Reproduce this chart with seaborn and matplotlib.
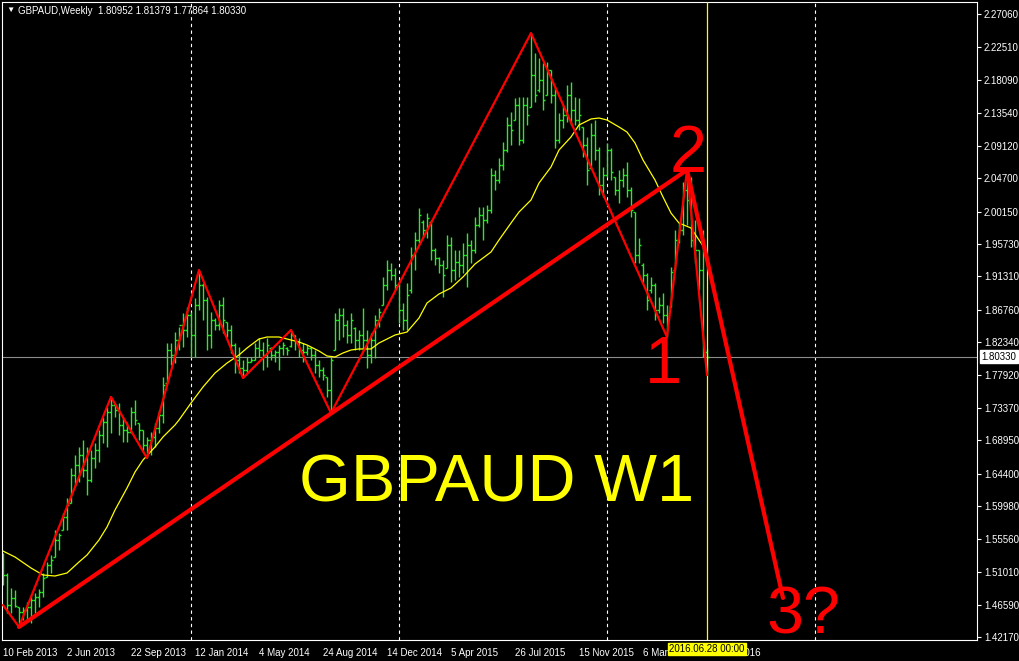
import matplotlib
matplotlib.use("Agg")
import matplotlib.pyplot as plt
import numpy as np
import pandas as pd
import seaborn as sns

# ---- GBPAUD weekly bars (10 Feb 2013 .. 26 Jun 2016) ----
symbol = "GBPAUD"
timeframe = "Weekly"

bar_open = [
    1.5293, 1.5062, 1.4653, 1.4748, 1.4626, 1.4558, 1.4585, 1.4626, 1.4721, 1.4762,
    1.4830, 1.5035, 1.5198, 1.5307, 1.5539, 1.5675, 1.5852, 1.6043, 1.6425, 1.6561,
    1.6697, 1.6493, 1.6356, 1.6656, 1.6765, 1.6970, 1.7147, 1.7283, 1.7378, 1.7310,
    1.7106, 1.7038, 1.7011, 1.7283, 1.7133, 1.7038, 1.6833, 1.6901, 1.6943, 1.7065,
    1.7242, 1.7678, 1.8128, 1.8060, 1.8264, 1.8469, 1.8400, 1.8605, 1.8332, 1.8741,
    1.9014, 1.8809, 1.8332, 1.8537, 1.8469, 1.8741, 1.8510, 1.8400, 1.8196, 1.7991,
    1.7882, 1.7855, 1.7964, 1.7991, 1.8155, 1.8128, 1.8060, 1.8155, 1.8060, 1.8101,
    1.8155, 1.8155, 1.8182, 1.8332, 1.8237, 1.8128, 1.8101, 1.8155, 1.8060, 1.7923,
    1.7855, 1.7760, 1.7583, 1.8128, 1.8537, 1.8605, 1.8469, 1.8332, 1.8427, 1.8264,
    1.8332, 1.8264, 1.8060, 1.8264, 1.8537, 1.8741, 1.9014, 1.9218, 1.9150, 1.9014,
    1.8673, 1.8537, 1.8945, 1.9422, 1.9627, 1.9872, 1.9763, 1.9872, 1.9490, 1.9381,
    1.9286, 1.9245, 1.9559, 1.9218, 1.9327, 1.9286, 1.9422, 1.9559, 1.9490, 1.9831,
    1.9967, 1.9899, 2.0035, 2.0513, 2.0444, 2.0649, 2.0853, 2.1194, 2.1262, 2.1466,
    2.0989, 2.1466, 2.1439, 2.1875, 2.1671, 2.1807, 2.1603, 2.1943, 2.1603, 2.0989,
    2.1262, 2.1330, 2.1603, 2.1398, 2.1262, 2.1167, 2.0921, 2.0608, 2.1058, 2.0853,
    2.0376, 2.0513, 2.0853, 2.0485, 2.0308, 2.0444, 2.0513, 2.0308, 2.0008, 1.9422,
    1.9286, 1.9150, 1.8945, 1.9014, 1.8673, 1.8741, 1.8605, 1.8714, 1.9218, 1.9627,
    1.9763, 2.0308, 2.0172, 1.9627, 1.9490, 1.9218, 1.80952,
]
bar_high = [
    1.5361, 1.5089, 1.4885, 1.4857, 1.4626, 1.4626, 1.4694, 1.4789, 1.4816, 1.4871,
    1.5089, 1.5239, 1.5334, 1.5675, 1.5634, 1.5906, 1.6111, 1.6520, 1.6697, 1.6806,
    1.6901, 1.6806, 1.6765, 1.6860, 1.7038, 1.7215, 1.7351, 1.7488, 1.7405, 1.7405,
    1.7215, 1.7147, 1.7351, 1.7446, 1.7133, 1.7038, 1.6943, 1.7011, 1.7133, 1.7310,
    1.7760, 1.8223, 1.8223, 1.8373, 1.8442, 1.8632, 1.8714, 1.8646, 1.8836, 1.9218,
    1.9041, 1.8850, 1.8646, 1.8564, 1.8809, 1.8850, 1.8510, 1.8469, 1.8223, 1.8169,
    1.7991, 1.8033, 1.8033, 1.8223, 1.8291, 1.8237, 1.8291, 1.8169, 1.8128, 1.8196,
    1.8237, 1.8169, 1.8400, 1.8332, 1.8291, 1.8223, 1.8196, 1.8169, 1.8128, 1.7991,
    1.7896, 1.7760, 1.8033, 1.8632, 1.8700, 1.8700, 1.8537, 1.8632, 1.8441, 1.8400,
    1.8700, 1.8400, 1.8359, 1.8605, 1.8700, 1.9123, 1.9354, 1.9313, 1.9245, 1.9041,
    1.8768, 1.9041, 1.9531, 1.9736, 2.0062, 1.9899, 1.9994, 1.9899, 1.9517, 1.9395,
    1.9354, 1.9695, 1.9668, 1.9490, 1.9490, 1.9586, 1.9722, 1.9627, 1.9940, 2.0077,
    2.0077, 2.0104, 2.0608, 2.0581, 2.0744, 2.0962, 2.1303, 2.1371, 2.1561, 2.1575,
    2.1575, 2.1575, 2.2447, 2.2175, 2.2106, 2.2038, 2.2052, 2.1943, 2.1712, 2.1357,
    2.1466, 2.1739, 2.1780, 2.1575, 2.1561, 2.1167, 2.1031, 2.1221, 2.1262, 2.0894,
    2.0622, 2.0948, 2.0880, 2.0485, 2.0581, 2.0608, 2.0690, 2.0349, 2.0008, 1.9654,
    1.9313, 1.9177, 1.9123, 1.9041, 1.8850, 1.8904, 1.8741, 1.9259, 1.9763, 1.9858,
    2.0417, 2.0581, 2.0485, 1.9899, 1.9490, 1.9763, 1.81379,
]
bar_low = [
    1.4926, 1.4544, 1.4544, 1.4626, 1.4354, 1.4449, 1.4422, 1.4408, 1.4544, 1.4626,
    1.4762, 1.5035, 1.5089, 1.5307, 1.5402, 1.5675, 1.5675, 1.6043, 1.6261, 1.6329,
    1.6398, 1.6152, 1.6329, 1.6520, 1.6602, 1.6860, 1.6806, 1.6997, 1.7215, 1.6970,
    1.6874, 1.6874, 1.6997, 1.7106, 1.6901, 1.6738, 1.6656, 1.6697, 1.6806, 1.6997,
    1.7133, 1.7678, 1.7923, 1.7950, 1.8128, 1.8169, 1.8305, 1.8033, 1.8033, 1.8673,
    1.8537, 1.8128, 1.8155, 1.8400, 1.8400, 1.8359, 1.8305, 1.8087, 1.7814, 1.7814,
    1.7746, 1.7814, 1.7964, 1.7991, 1.8033, 1.7855, 1.7896, 1.7991, 1.7964, 1.7855,
    1.8060, 1.8060, 1.8169, 1.8128, 1.8033, 1.7964, 1.8060, 1.7991, 1.7814, 1.7760,
    1.7719, 1.7488, 1.7269, 1.8128, 1.8264, 1.8305, 1.8223, 1.8223, 1.8128, 1.8128,
    1.8128, 1.7882, 1.7950, 1.8019, 1.8441, 1.8741, 1.8945, 1.9082, 1.8945, 1.8496,
    1.8400, 1.8400, 1.8904, 1.9218, 1.9586, 1.9654, 1.9654, 1.9354, 1.9286, 1.9177,
    1.8850, 1.9245, 1.9055, 1.9082, 1.9123, 1.9177, 1.8987, 1.9313, 1.9449, 1.9804,
    1.9627, 1.9858, 1.9994, 2.0308, 2.0403, 2.0581, 2.0826, 2.0921, 2.1262, 2.0921,
    2.0948, 2.1194, 2.1439, 2.1507, 2.1644, 2.1398, 2.1603, 2.1493, 2.0880, 2.0948,
    2.1153, 2.1235, 2.1194, 2.1194, 2.1126, 2.0758, 2.0376, 2.0608, 2.0717, 2.0240,
    2.0213, 2.0485, 2.0444, 2.0240, 2.0131, 2.0349, 2.0213, 1.9940, 1.9313, 1.9313,
    1.9041, 1.8673, 1.8904, 1.8537, 1.8632, 1.8496, 1.8305, 1.8714, 1.9218, 1.9586,
    1.9695, 1.9831, 1.9531, 1.9313, 1.8945, 1.8033, 1.77864,
]
bar_close = [
    1.5062, 1.4653, 1.4748, 1.4640, 1.4558, 1.4585, 1.4626, 1.4721, 1.4762, 1.4830,
    1.5021, 1.5198, 1.5266, 1.5539, 1.5607, 1.5852, 1.6016, 1.6425, 1.6561, 1.6697,
    1.6493, 1.6356, 1.6656, 1.6765, 1.6970, 1.7147, 1.7283, 1.7378, 1.7310, 1.7106,
    1.7038, 1.7011, 1.7283, 1.7174, 1.7038, 1.6833, 1.6901, 1.6943, 1.7065, 1.7242,
    1.7651, 1.8128, 1.8060, 1.8264, 1.8469, 1.8400, 1.8605, 1.8332, 1.8741, 1.9014,
    1.8809, 1.8332, 1.8537, 1.8469, 1.8741, 1.8537, 1.8400, 1.8196, 1.7991, 1.7882,
    1.7855, 1.7964, 1.7991, 1.8155, 1.8128, 1.8060, 1.8196, 1.8060, 1.8101, 1.8155,
    1.8196, 1.8128, 1.8332, 1.8237, 1.8128, 1.8101, 1.8155, 1.8060, 1.7923, 1.7855,
    1.7787, 1.7583, 1.7991, 1.8537, 1.8605, 1.8469, 1.8332, 1.8537, 1.8264, 1.8332,
    1.8264, 1.8060, 1.8264, 1.8537, 1.8646, 1.9014, 1.9218, 1.9150, 1.9014, 1.8673,
    1.8537, 1.8877, 1.9422, 1.9627, 1.9967, 1.9763, 1.9926, 1.9490, 1.9381, 1.9286,
    1.9150, 1.9559, 1.9218, 1.9327, 1.9286, 1.9422, 1.9559, 1.9490, 1.9831, 1.9967,
    1.9899, 2.0035, 2.0513, 2.0444, 2.0649, 2.0853, 2.1194, 2.1126, 2.1466, 2.0989,
    2.1466, 2.1330, 2.1875, 2.1603, 2.1807, 2.1534, 2.1943, 2.1603, 2.0989, 2.1262,
    2.1330, 2.1603, 2.1398, 2.1262, 2.1330, 2.0921, 2.0581, 2.1058, 2.0853, 2.0376,
    2.0513, 2.0853, 2.0553, 2.0308, 2.0444, 2.0513, 2.0308, 2.0035, 1.9422, 1.9559,
    1.9150, 1.8809, 1.9014, 1.8673, 1.8741, 1.8605, 1.8537, 1.9191, 1.9627, 1.9763,
    2.0308, 2.0172, 1.9627, 1.9490, 1.9218, 1.8101, 1.80330,
]

# moving average (yellow), sampled at bar numbers
ma_bar = [0, 3, 7, 10, 13, 16, 19, 21, 24, 26, 28, 31, 33, 35, 38, 40, 43, 44, 47, 50,
          53, 56, 59, 61, 64, 66, 69, 71, 74, 76, 79, 81, 83, 85, 87, 89, 92, 94, 98, 101,
          104, 106, 109, 112, 115, 118, 122, 124, 127, 129, 132, 134, 137, 139, 142, 144,
          147, 149, 151, 154, 156, 158, 160, 163, 165, 167, 169, 172, 174, 176]
ma_value = [1.5388, 1.5307, 1.5157, 1.5062, 1.5048, 1.5089, 1.5239, 1.5334, 1.5539, 1.5716,
            1.5947, 1.6247, 1.6465, 1.6629, 1.6806, 1.6943, 1.7106, 1.7174, 1.7405, 1.7624,
            1.7814, 1.7950, 1.8060, 1.8155, 1.8278, 1.8305, 1.8305, 1.8278, 1.8237, 1.8196,
            1.8114, 1.8046, 1.8033, 1.8087, 1.8128, 1.8142, 1.8142, 1.8223, 1.8332, 1.8373,
            1.8564, 1.8768, 1.8891, 1.8973, 1.9123, 1.9300, 1.9463, 1.9627, 1.9858, 2.0008,
            2.0172, 2.0403, 2.0622, 2.0853, 2.1031, 2.1194, 2.1276, 2.1289, 2.1262, 2.1167,
            2.1098, 2.0948, 2.0717, 2.0444, 2.0213, 1.9994, 1.9858, 1.9790, 1.9627, 1.9463]

# zigzag swing points
zigzag_bar = [0, 4, 27, 36, 49, 60, 72, 82, 132, 166, 171, 176]
zigzag_price = [1.4653, 1.4354, 1.7488, 1.6656, 1.9218, 1.7746, 1.8400, 1.7269,
                2.2447, 1.8305, 2.0581, 1.77864]

# support trendline and projected leg
trend_bar = [4, 171]
trend_price = [1.4354, 2.0581]
target_bar = [171, 195]
target_price = [2.0581, 1.4749]

# wave labels
wave_text = ["1", "2", "3?"]
wave_bar = [165, 171.25, 200]
wave_price = [1.7678, 2.0553, 1.4265]

title_text = "GBPAUD W1"
title_bar = 123.5
title_price = 1.6057

price_ticks = [2.27060, 2.22510, 2.18090, 2.13540, 2.09120, 2.04700, 2.00150,
               1.95730, 1.91310, 1.86760, 1.82340, 1.77920, 1.73370, 1.68950,
               1.64400, 1.59980, 1.55560, 1.51010, 1.46590, 1.42170]
date_tick_bars = [0, 16, 32, 48, 64, 80, 96, 112, 128, 144, 160, 176]
date_tick_labels = ["10 Feb 2013", "2 Jun 2013", "22 Sep 2013", "12 Jan 2014",
                    "4 May 2014", "24 Aug 2014", "14 Dec 2014", "5 Apr 2015",
                    "26 Jul 2015", "15 Nov 2015", "6 Mar 2016", "26 Jun 2016"]
year_start_bars = [47, 99, 151, 203]
cursor_bar = 176
cursor_label = "2016.06.28 00:00"

# ---- styling ----
sns.set_theme(style="dark", rc={
    "figure.facecolor": "black",
    "axes.facecolor": "black",
    "axes.edgecolor": "white",
    "axes.linewidth": 0.8,
    "text.color": "white",
    "xtick.color": "white",
    "ytick.color": "white",
    "axes.grid": False,
})
plt.rcParams["font.family"] = ["Liberation Sans", "DejaVu Sans"]

W, H = 1020, 661
fig = plt.figure(figsize=(W / 100, H / 100), dpi=100)
ax = fig.add_axes([2.5 / W, 1 - 640 / H, (977 - 2.5) / W, (640 - 2) / H])
ax.set_facecolor("black")

bars = pd.DataFrame({"bar": np.arange(len(bar_open)), "open": bar_open,
                     "high": bar_high, "low": bar_low, "close": bar_close})
ma = pd.DataFrame({"bar": ma_bar, "ma": ma_value})

# yearly separators
for b in year_start_bars:
    ax.axvline(b, color="white", lw=0.8, ls=(0, (3, 3)), zorder=1)

# last price line
ax.axhline(bar_close[-1], color="#8c8c8c", lw=0.8, zorder=1)

# OHLC bars
bar_color = "#2ee82e"
ax.vlines(bars["bar"], bars["low"], bars["high"], color=bar_color, lw=1.0, zorder=2)
ax.hlines(bars["open"], bars["bar"] - 0.4, bars["bar"], color=bar_color, lw=1.0, zorder=2)
ax.hlines(bars["close"], bars["bar"], bars["bar"] + 0.4, color=bar_color, lw=1.0, zorder=2)

# moving average
sns.lineplot(data=ma, x="bar", y="ma", color="#ffff00", linewidth=0.9,
             sort=False, estimator=None, legend=False, ax=ax, zorder=3)

# time cursor
ax.axvline(cursor_bar, color="#ffff00", lw=0.9, zorder=3)

# zigzag, trendline and projection
sns.lineplot(x=zigzag_bar, y=zigzag_price, color="#ff0000", linewidth=1.6,
             sort=False, estimator=None, legend=False, ax=ax, zorder=4)
sns.lineplot(x=trend_bar, y=trend_price, color="#ff0000", linewidth=3.0,
             sort=False, estimator=None, legend=False, ax=ax, zorder=4)
sns.lineplot(x=target_bar, y=target_price, color="#ff0000", linewidth=3.0,
             sort=False, estimator=None, legend=False, ax=ax, zorder=4)

# annotations
ax.text(title_bar, title_price, title_text, color="#ffff00", fontsize=48,
        ha="center", va="baseline", zorder=5)
for t, b, p in zip(wave_text, wave_bar, wave_price):
    ax.text(b, p, t, color="#ff0000", fontsize=48, ha="center", va="baseline", zorder=5)

# axes
ax.set_xlim(-0.125, 243.5)
ax.set_ylim(1.4176, 2.2870)
ax.set_xlabel("")
ax.set_ylabel("")
ax.yaxis.tick_right()
ax.set_yticks(price_ticks)
ax.set_yticklabels([f"{v:.5f}" for v in price_ticks])
ax.set_xticks(date_tick_bars)
ax.set_xticklabels(date_tick_labels)
for lbl in ax.get_xticklabels():
    lbl.set_ha("left")
ax.tick_params(axis="y", direction="out", length=3, width=0.8, pad=2, labelsize=7)
ax.tick_params(axis="x", direction="out", length=4, width=0.8, pad=1.5, labelsize=7)
for s in ax.spines.values():
    s.set_color("white")
    s.set_linewidth(0.8)

# current price tag and time tag
ax.annotate(f"{bar_close[-1]:.5f}", xy=(1, bar_close[-1]), xycoords=("axes fraction", "data"),
            xytext=(3.2, 0), textcoords="offset points", ha="left", va="center",
            fontsize=7, color="black", annotation_clip=False, zorder=10,
            bbox=dict(boxstyle="square,pad=0.15", fc="white", ec="white"))
ax.annotate(cursor_label, xy=(cursor_bar, 0), xycoords=("data", "axes fraction"),
            xytext=(0, -6.5), textcoords="offset points", ha="center", va="center",
            fontsize=7, color="black", annotation_clip=False, zorder=10,
            bbox=dict(boxstyle="square,pad=0.15", fc="#ffff00", ec="#ffff00"))

# header
fig.text(6 / W, 1 - 10.5 / H, "\u25bc", color="white", fontsize=6, va="center", ha="left")
fig.text(18 / W, 1 - 10.5 / H,
         f"{symbol},{timeframe}  {bar_open[-1]:.5f} {bar_high[-1]:.5f} "
         f"{bar_low[-1]:.5f} {bar_close[-1]:.5f}",
         color="white", fontsize=7, va="center", ha="left")

fig.savefig("out.png", dpi=100, facecolor="black")
